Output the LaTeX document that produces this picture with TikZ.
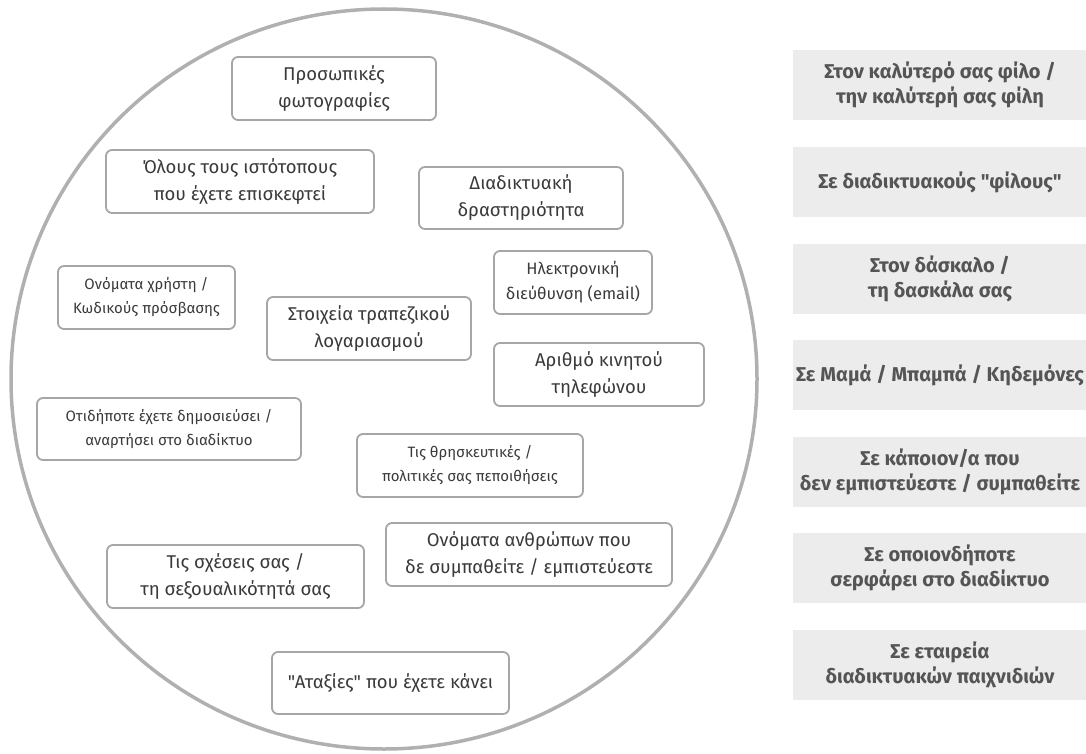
\documentclass[tikz,border=0pt]{standalone}
\usepackage{fontspec}
\setmainfont{Fira Sans}[Ligatures=TeXOff]
\newfontfamily\boldf{Fira Sans}[Ligatures=TeXOff]
\begin{document}
\begin{tikzpicture}[x=1pt,y=-1pt,
  item/.style={draw=boxgray, line width=1.8pt, rounded corners=6pt, fill=white, text=txtgray, align=center, inner sep=0pt},
  big/.style={font=\fontsize{18.5}{27}\selectfont},
  small/.style={font=\fontsize{15}{24}\selectfont},
  mid/.style={font=\fontsize{16.5}{25}\selectfont},
  who/.style={fill=whogray, text=whotext, align=center, inner sep=0pt, minimum width=294pt, minimum height=70pt, font=\boldf\bfseries\fontsize{20}{24.5}\selectfont}]
\definecolor{boxgray}{HTML}{A6A6A6}
\definecolor{txtgray}{HTML}{3A3A3A}
\definecolor{whogray}{HTML}{ECECEC}
\definecolor{whotext}{HTML}{555555}
\definecolor{circgray}{HTML}{B0B0B0}
\useasboundingbox (0,0) rectangle (1086,754);
\draw[circgray, line width=3.5pt] (384,379) ellipse [x radius=373pt, y radius=370pt];

\node[item,big,minimum width=204pt,minimum height=63pt] (n1) at (334,88.5) {Προσωπικές\\φωτογραφίες};
\node[item,big,minimum width=268pt,minimum height=63pt] (n2) at (240,181.5) {Όλους τους ιστότοπους\\που έχετε επισκεφτεί};
\node[item,big,minimum width=204pt,minimum height=62pt] (n3) at (521,198) {Διαδικτυακή\\δραστηριότητα};
\node[item,small,minimum width=177pt,minimum height=63pt] (n4) at (146.5,297.5) {Ονόματα χρήστη /\\Κωδικούς πρόσβασης};
\node[item,mid,minimum width=158pt,minimum height=63pt] (n5) at (573,282.5) {Ηλεκτρονική\\διεύθυνση (email)};
\node[item,big,minimum width=204pt,minimum height=63pt] (n6) at (369,328.5) {Στοιχεία τραπεζικού\\λογαριασμού};
\node[item,big,minimum width=210pt,minimum height=63pt] (n7) at (599,374.5) {Αριθμό κινητού\\τηλεφώνου};
\node[item,small,minimum width=264pt,minimum height=62pt] (n8) at (169,429) {Οτιδήποτε έχετε δημοσιεύσει /\\αναρτήσει στο διαδίκτυο};
\node[item,small,minimum width=226pt,minimum height=63pt] (n9) at (470,465.5) {Τις θρησκευτικές /\\πολιτικές σας πεποιθήσεις};
\node[item,big,minimum width=257pt,minimum height=63pt] (n10) at (235.5,576.5) {Τις σχέσεις σας /\\τη σεξουαλικότητά σας};
\node[item,big,minimum width=286pt,minimum height=63pt] (n11) at (529,554.5) {Ονόματα ανθρώπων που\\δε συμπαθείτε / εμπιστεύεστε};
\node[item,big,minimum width=237pt,minimum height=62pt] (n12) at (390.5,683) {"Αταξίες" που έχετε κάνει};

\node[who] (w1) at (940,85) {Στον καλύτερό σας φίλο /\\την καλύτερή σας φίλη};
\node[who] (w2) at (940,182) {Σε διαδικτυακούς "φίλους"};
\node[who] (w3) at (940,279) {Στον δάσκαλο /\\τη δασκάλα σας};
\node[who] (w4) at (940,375) {Σε Μαμά / Μπαμπά / Κηδεμόνες};
\node[who] (w5) at (940,472) {Σε κάποιον/α που\\δεν εμπιστεύεστε / συμπαθείτε};
\node[who] (w6) at (940,568) {Σε οποιονδήποτε\\σερφάρει στο διαδίκτυο};
\node[who] (w7) at (940,665) {Σε εταιρεία\\διαδικτυακών παιχνιδιών};
\end{tikzpicture}
\end{document}
